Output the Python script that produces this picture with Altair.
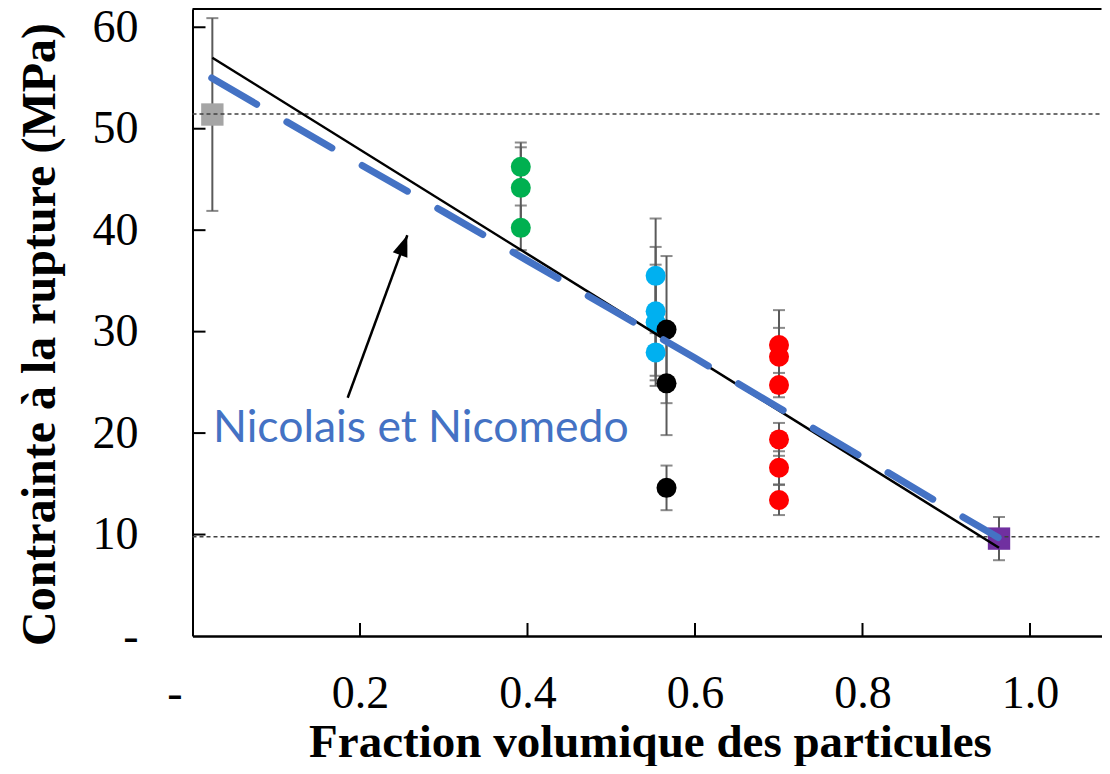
import altair as alt
import pandas as pd

# ---------------- data ----------------
groups = ["gris", "vert", "cyan", "noir", "rouge", "violet"]
group_colors = ["#A5A5A5", "#00B050", "#00B0F0", "#000000", "#FF0000", "#7030A0"]

gris_x = [0.0237]
gris_y = [51.4]
gris_err = [9.5]

vert_x = [0.392, 0.392, 0.392]
vert_y = [46.24, 44.17, 40.23]
vert_err = [2.4, 4.0, 2.2]

cyan_x = [0.553, 0.553, 0.553, 0.553]
cyan_y = [35.5, 32.0, 30.9, 27.95]
cyan_err = [5.65, 6.35, 5.7, 3.3]

noir_x = [0.566, 0.566, 0.566]
noir_y = [30.2, 24.9, 14.6]
noir_err = [7.25, 5.1, 2.2]

rouge_x = [0.7003] * 6
rouge_y = [28.67, 27.52, 24.73, 19.38, 16.58, 13.4]
rouge_err = [3.45, 2.85, 1.2, 1.62, 1.63, 1.48]

violet_x = [0.963]
violet_y = [9.6]
violet_err = [2.13]

# reference (dotted) levels
ref_levels = [51.45, 9.78]

# rule-of-mixtures straight line
lin_x = [0.0237, 0.963]
lin_y = [57.0, 8.7]

# Nicolais et Nicomedo curve
nn_x = [0.023, 0.11, 0.2, 0.3, 0.4, 0.5, 0.6, 0.7, 0.8, 0.9, 0.962]
nn_y = [55.0, 50.8, 46.5, 41.8, 37.0, 32.2, 27.4, 22.5, 17.6, 12.7, 9.7]

# annotation
label_text = ["Nicolais et Nicomedo"]
label_x = [0.0245]
label_y = [19.12]
arrow_x = [0.1853, 0.2565]
arrow_y = [23.48, 39.5]

# axis ticks
x_ticks = [0.2, 0.4, 0.6, 0.8, 1.0]
y_ticks = [10, 20, 30, 40, 50, 60]
x_values = [0.0, 0.2, 0.4, 0.6, 0.8, 1.0]
y_values = [0, 10, 20, 30, 40, 50, 60]

# ---------------- build tables ----------------
rows = []
for g, xs_, ys_, es in [
    ("gris", gris_x, gris_y, gris_err),
    ("vert", vert_x, vert_y, vert_err),
    ("cyan", cyan_x, cyan_y, cyan_err),
    ("noir", noir_x, noir_y, noir_err),
    ("rouge", rouge_x, rouge_y, rouge_err),
    ("violet", violet_x, violet_y, violet_err),
]:
    for xv, yv, ev in zip(xs_, ys_, es):
        rows.append({"grp": g, "x": xv, "y": yv, "lo": yv - ev, "hi": yv + ev,
                     "shape": "square" if g in ("gris", "violet") else "circle"})
pts = pd.DataFrame(rows)

W, H = 909, 627
XMAX = W / 837.5
YMAX = 61.8

SERIF = "Liberation Serif"

x_axis = alt.Axis(
    values=x_values,
    labelExpr="datum.value == 0 ? '-' : format(datum.value, '.1f')",
    labelOffset={"condition": {"test": "datum.value == 0", "value": -18}, "value": 0},
    labelFont=SERIF, labelFontSize=46, labelColor="black",
    labelPadding=71, labelBaseline="alphabetic", labelFlush=False,
    labelOverlap=False, labelBound=False,
    ticks=False, tickSize=0, grid=False,
    domain=True, domainColor="black", domainWidth=2.5,
    title="Fraction volumique des particules",
    titleFont=SERIF, titleFontSize=47, titleFontWeight="bold", titleColor="black",
    titleBaseline="alphabetic", titleY=120, titleX=457.5,
)
y_axis = alt.Axis(
    values=y_values,
    labelExpr="datum.value == 0 ? '-' : format(datum.value, 'd')",
    labelFont=SERIF, labelFontSize=46, labelColor="black",
    labelPadding=54.5, labelBaseline="middle", labelAlign="right",
    labelFlush=False, labelOverlap=False, labelBound=False,
    ticks=False, tickSize=0, grid=False,
    domain=True, domainColor="black", domainWidth=2,
    title="Contrainte à la rupture (MPa)",
    titleFont=SERIF, titleFontSize=48, titleFontWeight="bold", titleColor="black",
    titleAngle=270, titleAlign="center", titleBaseline="middle",
    titleX=-152, titleY=325,
)

xs = alt.Scale(domain=[0, XMAX], nice=False, zero=False)
ys = alt.Scale(domain=[0, YMAX], nice=False, zero=False)


def X(f):
    return alt.X(f"{f}:Q", scale=xs, axis=x_axis)


def Y(f):
    return alt.Y(f"{f}:Q", scale=ys, axis=y_axis)


color_enc = alt.Color("grp:N", scale=alt.Scale(domain=groups, range=group_colors), legend=None)

base = alt.Chart(pts)

err_rule = base.mark_rule(color="#5A5A5A", strokeWidth=2).encode(
    x=X("x"), y=Y("lo"), y2="hi:Q")
err_caps = base.transform_fold(["lo", "hi"], as_=["k", "v"]).mark_tick(
    orient="horizontal", size=12, thickness=2, color="#5A5A5A").encode(x=X("x"), y=Y("v"))

circles = base.transform_filter("datum.shape == 'circle'").mark_circle(
    size=400, opacity=1).encode(x=X("x"), y=Y("y"), color=color_enc)
squares = base.transform_filter("datum.shape == 'square'").mark_square(
    size=500, opacity=1).encode(x=X("x"), y=Y("y"), color=color_enc)

refs = alt.Chart(pd.DataFrame({"v": ref_levels})).mark_rule(
    color="#404040", strokeWidth=1.5, strokeDash=[4, 3]).encode(
    y=Y("v"), x=alt.value(0), x2=alt.value(W))

lin = alt.Chart(pd.DataFrame({"x": lin_x, "y": lin_y})).mark_line(
    color="black", strokeWidth=2.5).encode(x=X("x"), y=Y("y"))

nn = alt.Chart(pd.DataFrame({"x": nn_x, "y": nn_y})).mark_line(
    color="#4472C4", strokeWidth=7, strokeDash=[52, 35], strokeCap="round").encode(
    x=X("x"), y=Y("y"))

arrow_line = alt.Chart(pd.DataFrame({"x": arrow_x, "y": arrow_y})).mark_line(
    color="black", strokeWidth=2.5).encode(x=X("x"), y=Y("y"))
arrow_head = alt.Chart(pd.DataFrame({"x": arrow_x[-1:], "y": arrow_y[-1:]})).mark_point(
    shape="M0,0L0.37,1L-0.37,1Z", size=1764, angle=20.1, filled=True,
    color="black", opacity=1, strokeWidth=0).encode(x=X("x"), y=Y("y"))

label = alt.Chart(pd.DataFrame({"x": label_x, "y": label_y, "t": label_text})).mark_text(
    font="Lato", fontSize=44.5, color="#4472C4", align="left", baseline="alphabetic").encode(
    x=X("x"), y=Y("y"), text="t:N")

ytick_rules = alt.Chart(pd.DataFrame({"v": y_ticks})).mark_rule(
    color="black", strokeWidth=2).encode(y=Y("v"), x=alt.value(0), x2=alt.value(13))
xtick_rules = alt.Chart(pd.DataFrame({"v": x_ticks})).mark_rule(
    color="black", strokeWidth=2).encode(x=X("v"), y=alt.value(H), y2=alt.value(H - 13))
top_rule = alt.Chart(alt.Data(values=[{}])).mark_rule(color="black", strokeWidth=2).encode(
    x=alt.value(0), x2=alt.value(W), y=alt.value(0))

chart = alt.layer(
    err_rule, err_caps, circles, squares, refs, lin, nn,
    arrow_line, arrow_head, label, ytick_rules, xtick_rules, top_rule,
).properties(
    width=W, height=H,
    padding={"left": 184.5, "top": 1, "right": 0, "bottom": 130},
    autosize=alt.AutoSizeParams(type="none"),
    background="white",
).configure_view(stroke=None)

chart.save("out.html", embed_options={"renderer": "svg", "actions": False})
